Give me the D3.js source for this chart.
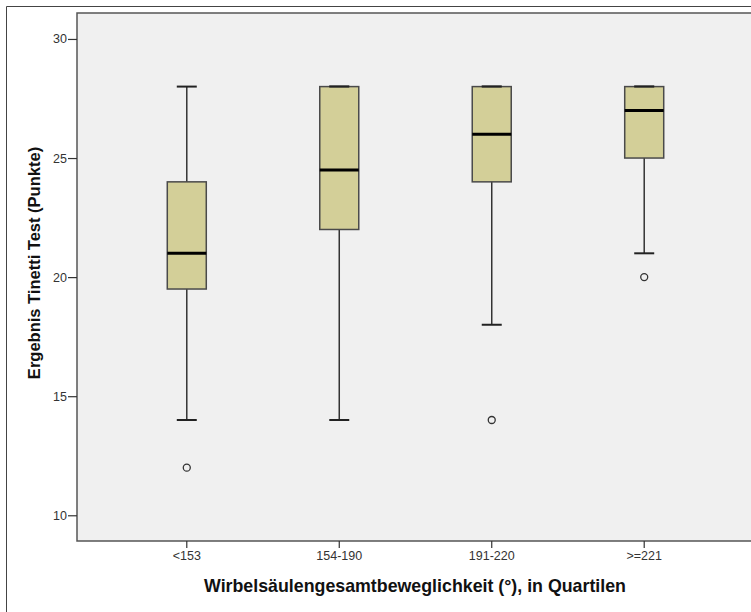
<!DOCTYPE html>
<html>
<head>
<meta charset="utf-8">
<script src="https://cdn.jsdelivr.net/npm/d3@7"></script>
<style>
  body { margin: 0; background: #fff; }
  svg { display: block; font-family: "Liberation Sans", Arial, sans-serif; }
</style>
</head>
<body>
<svg width="751" height="612"></svg>
<script>
// Categories and box statistics
const categories = ['<153', '154-190', '191-220', '>=221'];
const whiskerLow = [14, 14, 18, 21];
const q1 = [19.5, 22, 24, 25];
const median = [21, 24.5, 26, 27];
const q3 = [24, 28, 28, 28];
const whiskerHigh = [28, 28, 28, 28];
const outliers = [[12], [], [14], [20]];
const yTicks = [10, 15, 20, 25, 30];

const svg = d3.select('svg');

const plot = { left: 77, top: 13, right: 754, bottom: 541 };

// outer frame (cropped at right/bottom)
svg.append('path')
  .attr('d', 'M6.5,612 V6.5 H751')
  .attr('fill', 'none').attr('stroke', '#444').attr('stroke-width', 1);

const x = d3.scaleBand().domain(categories)
  .range([plot.left, plot.right]).paddingInner(0).paddingOuter(0.22);
const y = d3.scaleLinear().domain([8.92, 31.09]).range([plot.bottom, plot.top]);

// plot background
svg.append('rect')
  .attr('x', plot.left).attr('y', plot.top)
  .attr('width', plot.right - plot.left).attr('height', plot.bottom - plot.top)
  .attr('fill', '#f0f0f0').attr('stroke', '#555').attr('stroke-width', 1.5);

// y axis
const yAxis = svg.append('g').attr('transform', `translate(${plot.left},0)`)
  .call(d3.axisLeft(y).tickValues(yTicks).tickSize(9).tickPadding(1));
yAxis.select('.domain').remove();
yAxis.selectAll('line').attr('stroke', '#333').attr('stroke-width', 1.2);
yAxis.selectAll('text').attr('font-size', 12.5).attr('fill', '#333')
  .attr('font-family', '"Liberation Sans", Arial, sans-serif');

// x axis
const xAxis = svg.append('g').attr('transform', `translate(0,${plot.bottom})`)
  .call(d3.axisBottom(x).tickSize(7).tickPadding(3));
xAxis.select('.domain').remove();
xAxis.selectAll('line').attr('stroke', '#333').attr('stroke-width', 1.2);
xAxis.selectAll('text').attr('font-size', 12.5).attr('fill', '#333')
  .attr('font-family', '"Liberation Sans", Arial, sans-serif');

const boxW = 39, capW = 20;
const cx = i => x(categories[i]) + x.bandwidth() / 2;
const idx = d3.range(categories.length);

const g = svg.append('g');

// whiskers
g.selectAll('.whisk').data(idx).join('line')
  .attr('x1', cx).attr('x2', cx)
  .attr('y1', i => y(whiskerLow[i])).attr('y2', i => y(whiskerHigh[i]))
  .attr('stroke', '#333').attr('stroke-width', 1.5);

// caps
['low', 'high'].forEach(k => {
  const arr = k === 'low' ? whiskerLow : whiskerHigh;
  g.selectAll('.cap-' + k).data(idx).join('line')
    .attr('x1', i => cx(i) - capW / 2).attr('x2', i => cx(i) + capW / 2)
    .attr('y1', i => y(arr[i])).attr('y2', i => y(arr[i]))
    .attr('stroke', '#222').attr('stroke-width', 2);
});

// boxes
g.selectAll('.box').data(idx).join('rect')
  .attr('x', i => cx(i) - boxW / 2).attr('width', boxW)
  .attr('y', i => y(q3[i])).attr('height', i => y(q1[i]) - y(q3[i]))
  .attr('fill', '#d3cf98').attr('stroke', '#4a4a4a').attr('stroke-width', 1.5);

// caps drawn on top of box edge when whisker == box edge
g.selectAll('.capTop').data(idx.filter(i => whiskerHigh[i] === q3[i])).join('line')
  .attr('x1', i => cx(i) - capW / 2).attr('x2', i => cx(i) + capW / 2)
  .attr('y1', i => y(whiskerHigh[i])).attr('y2', i => y(whiskerHigh[i]))
  .attr('stroke', '#222').attr('stroke-width', 2);

// medians
g.selectAll('.med').data(idx).join('line')
  .attr('x1', i => cx(i) - boxW / 2).attr('x2', i => cx(i) + boxW / 2)
  .attr('y1', i => y(median[i])).attr('y2', i => y(median[i]))
  .attr('stroke', '#000').attr('stroke-width', 3);

// outliers
const pts = idx.flatMap(i => outliers[i].map(v => ({ i, v })));
g.selectAll('.out').data(pts).join('circle')
  .attr('cx', d => cx(d.i)).attr('cy', d => y(d.v)).attr('r', 3.5)
  .attr('fill', 'none').attr('stroke', '#333').attr('stroke-width', 1.3);

// axis titles
svg.append('text')
  .attr('transform', 'translate(40,263) rotate(-90)')
  .attr('text-anchor', 'middle')
  .attr('font-size', 16.5).attr('font-weight', 'bold').attr('fill', '#111')
  .text('Ergebnis Tinetti Test (Punkte)');

svg.append('text')
  .attr('x', 415).attr('y', 592)
  .attr('text-anchor', 'middle')
  .attr('font-size', 17.8).attr('font-weight', 'bold').attr('fill', '#111')
  .text('Wirbelsäulengesamtbeweglichkeit (°), in Quartilen');
</script>
</body>
</html>
